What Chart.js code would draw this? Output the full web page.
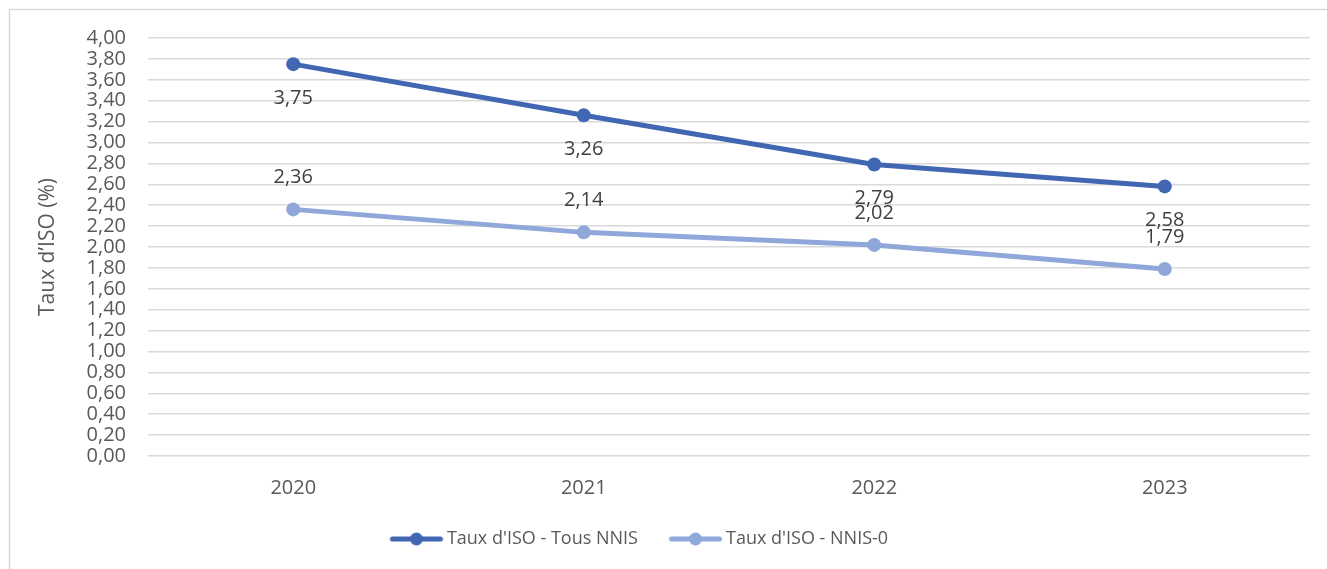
<!DOCTYPE html>
<html>
<head>
<meta charset="utf-8">
<script src="https://cdn.jsdelivr.net/npm/chart.js@4"></script>
<style>
  html, body { margin: 0; padding: 0; background: #fff; }
  #wrap { width: 1327px; height: 569px; position: relative; }
</style>
</head>
<body>
<div id="wrap"><canvas id="chart"></canvas></div>
<script>
const years = ["2020", "2021", "2022", "2023"];
const tousNnis = [3.75, 3.26, 2.79, 2.58];
const nnis0 = [2.36, 2.14, 2.02, 1.79];
const seriesNames = ["Taux d'ISO - Tous NNIS", "Taux d'ISO - NNIS-0"];
const seriesColors = ["#4267B2", "#8FA7D9"];
const yTitle = "Taux d\u2019ISO (%)";

const FONT = "'Open Sans', 'DejaVu Sans', sans-serif";
const fmt = v => v.toFixed(2).replace(".", ",");

// legend marker: a short line with a dot, drawn in the right part of the box
function legendMarker(color) {
    const c = document.createElement("canvas");
    c.width = 74; c.height = 16;
    const g = c.getContext("2d");
    g.strokeStyle = color;
    g.lineWidth = 5;
    g.lineCap = "round";
    g.beginPath(); g.moveTo(22, 8); g.lineTo(70, 8); g.stroke();
    g.fillStyle = color;
    g.beginPath(); g.arc(46, 8, 6.5, 0, Math.PI * 2); g.fill();
    return c;
}
const markers = seriesColors.map(legendMarker);

const frame = {
    id: "frame",
    beforeDraw(chart) {
        const ctx = chart.ctx;
        ctx.save();
        ctx.strokeStyle = "#D9D9D9";
        ctx.lineWidth = 1.5;
        ctx.strokeRect(9.5, 9.5, chart.width + 20, chart.height + 20);
        ctx.restore();
    }
};

// the legend sits a bit left of centre in the original
const legendShift = {
    id: "legendShift",
    afterLayout(chart) {
        chart.legend.left -= 40;
        chart.legend.right -= 40;
    }
};

const valueLabels = {
    id: "valueLabels",
    afterDatasetsDraw(chart) {
        const ctx = chart.ctx;
        ctx.save();
        ctx.font = "20px " + FONT;
        ctx.fillStyle = "#404040";
        ctx.textAlign = "center";
        ctx.textBaseline = "middle";
        chart.data.datasets.forEach((ds, i) => {
            chart.getDatasetMeta(i).data.forEach((pt, j) => {
                const dy = i === 0 ? 34 : -32;
                ctx.fillText(fmt(ds.data[j]), pt.x, pt.y + dy);
            });
        });
        ctx.restore();
    }
};

new Chart(document.getElementById("chart"), {
    type: "line",
    data: {
        labels: years,
        datasets: [
            { label: seriesNames[0], data: tousNnis, borderColor: seriesColors[0], backgroundColor: seriesColors[0] },
            { label: seriesNames[1], data: nnis0, borderColor: seriesColors[1], backgroundColor: seriesColors[1] }
        ]
    },
    options: {
        responsive: true,
        maintainAspectRatio: false,
        animation: false,
        layout: { padding: { left: 35, right: 17, top: 38, bottom: 11 } },
        elements: {
            line: { borderWidth: 5, tension: 0, borderCapStyle: "round", borderJoinStyle: "round" },
            point: { radius: 7, borderWidth: 0, hoverRadius: 7 }
        },
        plugins: {
            tooltip: { enabled: false },
            legend: {
                position: "bottom",
                labels: {
                    usePointStyle: true,
                    pointStyleWidth: 61,
                    padding: 18,
                    color: "#595959",
                    font: { family: FONT, size: 18 },
                    generateLabels(chart) {
                        return chart.data.datasets.map((ds, i) => ({
                            text: ds.label,
                            fillStyle: ds.borderColor,
                            strokeStyle: ds.borderColor,
                            lineWidth: 0,
                            pointStyle: markers[i],
                            fontColor: "#595959",
                            datasetIndex: i,
                            hidden: false
                        }));
                    }
                }
            }
        },
        scales: {
            x: {
                offset: true,
                grid: { display: false, drawTicks: false },
                border: { display: false },
                ticks: { color: "#595959", font: { family: FONT, size: 20 }, padding: 20 },
                afterFit(s) { s.height = 56; }
            },
            y: {
                min: 0,
                max: 4,
                grid: { color: "#D9D9D9", lineWidth: 1.5, drawTicks: false },
                border: { display: false },
                ticks: {
                    stepSize: 0.2,
                    autoSkip: false,
                    color: "#595959",
                    font: { family: FONT, size: 20 },
                    padding: 22,
                    callback: v => fmt(v)
                },
                title: {
                    display: true,
                    text: yTitle,
                    color: "#595959",
                    font: { family: FONT, size: 21 },
                    padding: 0
                },
                afterFit(s) { s.width = 113; }
            }
        }
    },
    plugins: [frame, legendShift, valueLabels]
});
</script>
</body>
</html>
